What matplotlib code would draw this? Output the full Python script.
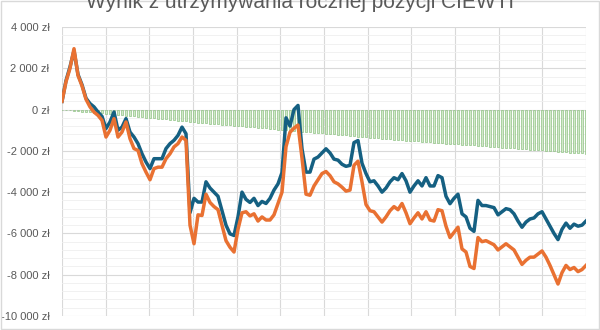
import matplotlib.pyplot as plt
import numpy as np
from matplotlib.patches import Rectangle
from matplotlib.ticker import FuncFormatter, MultipleLocator

title = "Wynik z utrzymywania rocznej pozycji CIEWTI"

# wynik pozycji (zl) - seria niebieska i pomaranczowa
blue = [400, 1400, 2070, 2850, 1700, 1200, 550, 290, 130, -120,
        -330, -920, -600, -120, -1000, -850, -440, -1090, -1330, -1650,
        -2140, -2540, -2860, -2380, -2380, -2380, -1890, -1650, -1490, -1250,
        -850, -1170, -5000, -4300, -4480, -4480, -3500, -3800, -4000, -4200,
        -4900, -5600, -6020, -6100, -5200, -4000, -4350, -4500, -4300, -4650,
        -4450, -4550, -4300, -3900, -3600, -3050, -400, -800, 0, 200,
        -1900, -3030, -3030, -2400, -2300, -2100, -1900, -2100, -2400, -2450,
        -2650, -2750, -2700, -1600, -1500, -2600, -3100, -3500, -3450, -3700,
        -4000, -3800, -3500, -3300, -3400, -3100, -3450, -4000, -3700, -3450,
        -3700, -3300, -3700, -3700, -3200, -3300, -4200, -4560, -4300, -4100,
        -5050, -5200, -5750, -5900, -4400, -4650, -4650, -4700, -4750, -5100,
        -4950, -4800, -4850, -5050, -5400, -5700, -5450, -5300, -5250, -5050,
        -4950, -5300, -5650, -6000, -6300, -5800, -5500, -5750, -5550, -5650,
        -5600, -5400]
orange = [400, 1350, 2000, 2950, 1650, 1150, 500, 130, -120, -280,
          -520, -1330, -1000, -440, -1330, -1090, -600, -1410, -1890, -1980,
          -2620, -3030, -3400, -2860, -2790, -2790, -2380, -2140, -1810, -1650,
          -1330, -1490, -5600, -6500, -5100, -5130, -4100, -4500, -4700, -4850,
          -5600, -6350, -6670, -6900, -5800, -5000, -4950, -5150, -5050, -5400,
          -5200, -5350, -5350, -5100, -4550, -4000, -1800, -1100, -900, -750,
          -2350, -4100, -4150, -3700, -3400, -3100, -3000, -3200, -3500, -3600,
          -3760, -3950, -3900, -2700, -2500, -3500, -4600, -4900, -4950, -5200,
          -5450, -5200, -4900, -4700, -4850, -4550, -5000, -5530, -5250, -5000,
          -5300, -4950, -5350, -5400, -4850, -4900, -5650, -6200, -5950, -5700,
          -6750, -6900, -7600, -7700, -6200, -6400, -6350, -6450, -6550, -6800,
          -6650, -6500, -6650, -6800, -7150, -7500, -7300, -7150, -7150, -7000,
          -6850, -7150, -7550, -8000, -8450, -7900, -7550, -7750, -7650, -7850,
          -7750, -7550]
# koszt (slupki zielone)
cost = [0, -20, -40, -55, -75, -95, -110, -130, -150, -165,
        -185, -205, -220, -240, -260, -280, -295, -315, -335, -350,
        -370, -390, -405, -425, -445, -460, -480, -500, -520, -535,
        -555, -575, -590, -610, -630, -645, -665, -680, -695, -715,
        -730, -750, -765, -780, -800, -815, -830, -850, -865, -885,
        -900, -915, -935, -950, -970, -985, -1000, -1020, -1035, -1050,
        -1070, -1085, -1105, -1120, -1135, -1155, -1170, -1190, -1205, -1220,
        -1240, -1255, -1275, -1290, -1305, -1325, -1340, -1360, -1375, -1390,
        -1410, -1425, -1445, -1460, -1475, -1490, -1505, -1520, -1530, -1545,
        -1560, -1575, -1590, -1600, -1615, -1630, -1645, -1660, -1670, -1685,
        -1700, -1715, -1730, -1740, -1755, -1770, -1785, -1800, -1810, -1825,
        -1840, -1855, -1870, -1880, -1895, -1910, -1925, -1940, -1950, -1965,
        -1980, -1995, -2010, -2020, -2035, -2050, -2065, -2080, -2090, -2105,
        -2120, -2135]

plt.rcParams['font.family'] = ['Liberation Sans Narrow', 'Liberation Sans', 'DejaVu Sans']

x = np.arange(len(blue))

fig = plt.figure(figsize=(6, 3.3), dpi=100)
ax = fig.add_axes([62 / 600, 1 - 316 / 330, 524 / 600, 289 / 330])

ax.bar(x, cost, width=0.6, color='#d2e8ca', edgecolor='#86bd7a', linewidth=0.45, zorder=2)
ax.plot(x, blue, color='#156082', lw=2.5, zorder=3, solid_joinstyle='round')
ax.plot(x, orange, color='#e97132', lw=2.5, zorder=4, solid_joinstyle='round')

ax.set_xlim(0, len(blue) - 1)
ax.set_ylim(-10000, 4000)
ax.yaxis.set_major_locator(MultipleLocator(2000))
ax.yaxis.set_minor_locator(MultipleLocator(400))
ax.yaxis.set_major_formatter(FuncFormatter(
    lambda v, p: (f"{int(v):,} zł").replace(",", " ")))
ax.set_xticks(np.linspace(0, len(blue) - 1, 13))
ax.set_xticklabels([])

ax.grid(axis='y', which='major', color='#d9d9d9', lw=0.8, zorder=0)
ax.grid(axis='y', which='minor', color='#efefef', lw=0.6, zorder=0)
ax.grid(axis='x', which='major', color='#d9d9d9', lw=0.8, zorder=0)
ax.set_axisbelow(True)
ax.tick_params(axis='both', which='both', length=0, labelsize=8, labelcolor='#595959', pad=9)
for s in ax.spines.values():
    s.set_visible(False)

fig.text(0.5, 1 - 8.5 / 330, title, ha='center', va='baseline',
         fontsize=15, color='#595959', family=['Liberation Sans', 'DejaVu Sans'])
fig.patches.append(Rectangle((0.002, 0.002), 0.996, 0.996, transform=fig.transFigure,
                             fill=False, edgecolor='#d9d9d9', lw=1))

fig.savefig("out.png", dpi=100)
